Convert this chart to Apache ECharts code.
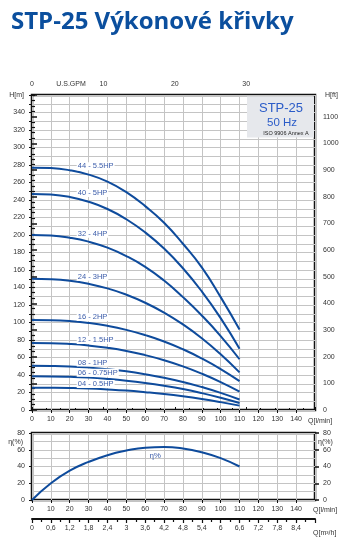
<!DOCTYPE html>
<html>
<head>
<meta charset="utf-8">
<script src="https://cdn.jsdelivr.net/npm/echarts@6/dist/echarts.min.js"></script>
<style>
html, body { margin: 0; padding: 0; background: #fff; }
#chart { width: 353px; height: 552px; }
</style>
</head>
<body>
<div id="chart"></div>
<script>
// prutok Q [l/min]
var flowLmin = [0, 10, 20, 30, 40, 50, 60, 70, 80, 90, 100, 110];

// vytlacna vyska H [m] pro jednotlive typy
var curveNames = ['44 - 5.5HP', '40 - 5HP', '32 - 4HP', '24 - 3HP', '16 - 2HP', '12 - 1.5HP', '08 - 1HP', '06 - 0.75HP', '04 - 0.5HP'];
var head44 = [277, 276.5, 274, 269, 261, 249, 233, 214, 190, 163, 129, 92];
var head40 = [247, 246.3, 243.5, 238, 229.7, 218, 203, 184.5, 162, 135.5, 105, 70];
var head32 = [200, 199.4, 196.9, 192.4, 185.5, 175.9, 163.6, 148, 129, 108, 84.5, 58];
var head24 = [150, 149.5, 147.7, 144.2, 139, 131.8, 122.6, 111.3, 97.8, 82, 63.7, 43];
var head16 = [103, 102.7, 101.6, 99.5, 96.2, 91.6, 85.6, 78.3, 69.4, 58.9, 46.8, 33];
var head12 = [76.5, 76.3, 75.4, 73.7, 71.1, 67.5, 62.7, 56.9, 49.9, 41.5, 31.9, 21];
var head08 = [50.5, 50.3, 49.7, 48.5, 46.7, 44.2, 40.9, 36.9, 32, 26.2, 19.6, 12];
var head06 = [38.5, 38.4, 37.9, 37, 35.5, 33.5, 30.9, 27.7, 23.9, 19.3, 14, 8];
var head04 = [25.5, 25.4, 25.1, 24.5, 23.5, 22.2, 20.4, 18.3, 15.7, 12.6, 9, 5];
var headCurves = [head44, head40, head32, head24, head16, head12, head08, head06, head04];

// ucinnost [%]
var effPct = [0, 20, 35, 45.5, 53.5, 59, 62.5, 63.3, 61.5, 57, 50, 40];

// prevody jednotek
var M_TO_FT = 3.28084;
var LMIN_PER_GPM = 3.785411784;

var myChart = echarts.init(document.getElementById('chart'));

var lineBlue = '#0e4b9c';
var labelBlue = '#3c5daa';
var gridGrey = '#c4c4c4';
var axisFont = 'Liberation Sans, Arial, sans-serif';

function buildCurve(heads) {
    return flowLmin.map(function (q, i) {
        if (i === 2) {
            return {
                value: [q, heads[i]],
                label: {
                    show: true,
                    position: 'right',
                    distance: 0,
                    offset: [7, -4],
                    formatter: '{a}',
                    color: labelBlue,
                    fontSize: 7.5,
                    fontFamily: axisFont,
                    backgroundColor: '#fff',
                    padding: [0, 1]
                }
            };
        }
        return [q, heads[i]];
    });
}

var series = curveNames.map(function (name, k) {
    return {
        name: name,
        type: 'line',
        xAxisIndex: 0,
        yAxisIndex: 0,
        smooth: true,
        symbol: 'circle',
        symbolSize: 0,
        showSymbol: true,
        silent: true,
        lineStyle: { color: lineBlue, width: 2 },
        itemStyle: { color: lineBlue },
        data: buildCurve(headCurves[k]),
        z: 3
    };
});

series.push({
    name: 'η%',
    type: 'line',
    xAxisIndex: 2,
    yAxisIndex: 2,
    smooth: true,
    symbol: 'circle',
    symbolSize: 0,
    silent: true,
    lineStyle: { color: lineBlue, width: 2 },
    itemStyle: { color: lineBlue },
    data: flowLmin.map(function (q, i) {
        if (i === 6) {
            return {
                value: [q, effPct[i]],
                label: {
                    show: true, position: 'bottom', distance: 4, offset: [10, 0],
                    formatter: 'η%', color: labelBlue, fontSize: 8, fontFamily: axisFont
                }
            };
        }
        return [q, effPct[i]];
    }),
    z: 3
});

var lblStyle = { color: '#333', fontSize: 7, fontFamily: axisFont };

var option = {
    animation: false,
    backgroundColor: '#fff',
    title: {
        text: 'STP-25 Výkonové křivky',
        left: 6,
        top: 5,
        textStyle: {
            color: '#0b4f9e',
            fontSize: 24,
            fontWeight: 'bold',
            fontFamily: 'Open Sans'
        }
    },
    grid: [
        { left: 32, right: 38, top: 95, height: 315, show: true, borderColor: '#111', borderWidth: 2.5 },
        { left: 32, right: 38, top: 433, height: 67, show: true, borderColor: '#111', borderWidth: 2.5 },
        { left: 32, right: 38, top: 518, height: 1 }
    ],
    xAxis: [
        {
            gridIndex: 0, type: 'value', position: 'bottom', min: 0, max: 150, interval: 10,
            axisLine: { show: false },
            axisTick: { show: true, length: 3, lineStyle: { color: '#111' } },
            axisLabel: Object.assign({ margin: 6, showMaxLabel: false }, lblStyle),
            splitLine: { show: true, lineStyle: { color: gridGrey, width: 1 } }
        },
        {
            gridIndex: 0, type: 'value', position: 'top', min: 0, max: 150 / LMIN_PER_GPM, interval: 10,
            axisLine: { show: false },
            axisTick: { show: true, length: 3, lineStyle: { color: '#111' } },
            minorTick: { show: true, splitNumber: 5, length: 2, lineStyle: { color: '#111' } },
            axisLabel: Object.assign({ margin: 7, showMaxLabel: false }, lblStyle),
            splitLine: { show: false }
        },
        {
            gridIndex: 1, type: 'value', position: 'bottom', min: 0, max: 150, interval: 10,
            axisLine: { show: false },
            axisTick: { show: true, length: 3, lineStyle: { color: '#111' } },
            axisLabel: Object.assign({ margin: 6, showMaxLabel: false }, lblStyle),
            splitLine: { show: true, lineStyle: { color: gridGrey, width: 1 } }
        },
        {
            gridIndex: 2, type: 'value', position: 'bottom', min: 0, max: 9, interval: 0.6,
            axisLine: { show: true, lineStyle: { color: '#111', width: 2 } },
            axisTick: { show: true, length: 4, lineStyle: { color: '#111', width: 1.2 } },
            minorTick: { show: true, splitNumber: 2, length: 3, lineStyle: { color: '#111', width: 1.2 } },
            axisLabel: Object.assign({
                margin: 6, showMaxLabel: false,
                formatter: function (v) {
                    if (Math.abs(v - Math.round(v)) < 1e-6) return String(Math.round(v));
                    return v.toFixed(1).replace('.', ',');
                }
            }, lblStyle),
            splitLine: { show: false }
        }
    ],
    yAxis: [
        {
            gridIndex: 0, type: 'value', position: 'left', min: 0, max: 360, interval: 20,
            axisLine: { show: false },
            axisTick: { show: true, length: 3, lineStyle: { color: '#111' } },
            minorTick: { show: true, splitNumber: 2, length: 3, lineStyle: { color: '#111' } },
            axisLabel: Object.assign({ margin: 7, showMaxLabel: false }, lblStyle),
            splitLine: { show: true, lineStyle: { color: gridGrey, width: 1 } },
            minorSplitLine: { show: true, lineStyle: { color: gridGrey, width: 1 } }
        },
        {
            gridIndex: 0, type: 'value', position: 'right', min: 0, max: 360 * M_TO_FT, interval: 100,
            axisLine: { show: false },
            axisTick: { show: true, length: 5, lineStyle: { color: '#111', width: 1.5 } },
            minorTick: { show: true, splitNumber: 5, length: 3, lineStyle: { color: '#111', width: 1.2 } },
            axisLabel: Object.assign({
                margin: 8, showMaxLabel: false,
                formatter: function (v) { return String(v); }
            }, lblStyle),
            splitLine: { show: false }
        },
        {
            gridIndex: 1, type: 'value', position: 'left', min: 0, max: 80, interval: 20,
            axisLine: { show: false },
            axisTick: { show: true, length: 3, lineStyle: { color: '#111' } },
            minorTick: { show: false, splitNumber: 2 },
            axisLabel: Object.assign({ margin: 7 }, lblStyle),
            splitLine: { show: true, lineStyle: { color: gridGrey, width: 1 } },
            minorSplitLine: { show: true, lineStyle: { color: gridGrey, width: 1 } }
        },
        {
            gridIndex: 1, type: 'value', position: 'right', min: 0, max: 80, interval: 20,
            axisLine: { show: false },
            axisTick: { show: true, length: 4, lineStyle: { color: '#111', width: 1.5 } },
            axisLabel: Object.assign({ margin: 8 }, lblStyle),
            splitLine: { show: false }
        },
        {
            gridIndex: 2, type: 'value', show: false, min: 0, max: 1
        }
    ],
    graphic: [
        { type: 'rect', z: 1, shape: { x: 247, y: 96.5, width: 67, height: 41 }, style: { fill: '#e6e8ec' } },
        { type: 'text', z: 5, x: 281, y: 108, style: { text: 'STP-25', fill: '#2b5cc8', font: '13px Liberation Sans', textAlign: 'center', textVerticalAlign: 'middle' } },
        { type: 'text', z: 5, x: 282, y: 123, style: { text: '50 Hz', fill: '#2b5cc8', font: '11.5px Liberation Sans', textAlign: 'center', textVerticalAlign: 'middle' } },
        { type: 'text', z: 5, x: 286, y: 133, style: { text: 'ISO 9906 Annex A', fill: '#222', font: '5.5px Liberation Sans', textAlign: 'center', textVerticalAlign: 'middle' } },
        { type: 'text', z: 5, x: 24, y: 95, style: { text: 'H[m]', fill: '#333', font: '7px Liberation Sans', textAlign: 'right', textVerticalAlign: 'middle' } },
        { type: 'text', z: 5, x: 325, y: 95, style: { text: 'H[ft]', fill: '#333', font: '7px Liberation Sans', textAlign: 'left', textVerticalAlign: 'middle' } },
        { type: 'text', z: 5, x: 71, y: 84, style: { text: 'U.S.GPM', fill: '#333', font: '7px Liberation Sans', textAlign: 'center', textVerticalAlign: 'middle' } },
        { type: 'text', z: 5, x: 308, y: 421, style: { text: 'Q[l/min]', fill: '#333', font: '7px Liberation Sans', textAlign: 'left', textVerticalAlign: 'middle' } },
        { type: 'text', z: 5, x: 313, y: 510, style: { text: 'Q[l/min]', fill: '#333', font: '7px Liberation Sans', textAlign: 'left', textVerticalAlign: 'middle' } },
        { type: 'text', z: 5, x: 313, y: 533, style: { text: 'Q[m³/h]', fill: '#333', font: '7px Liberation Sans', textAlign: 'left', textVerticalAlign: 'middle' } },
        { type: 'text', z: 5, x: 23, y: 442, style: { text: 'η(%)', fill: '#333', font: '7px Liberation Sans', textAlign: 'right', textVerticalAlign: 'middle' } },
        { type: 'text', z: 5, x: 318, y: 442, style: { text: 'η(%)', fill: '#333', font: '7px Liberation Sans', textAlign: 'left', textVerticalAlign: 'middle' } }
    ],
    series: series
};

myChart.setOption(option);
</script>
</body>
</html>
